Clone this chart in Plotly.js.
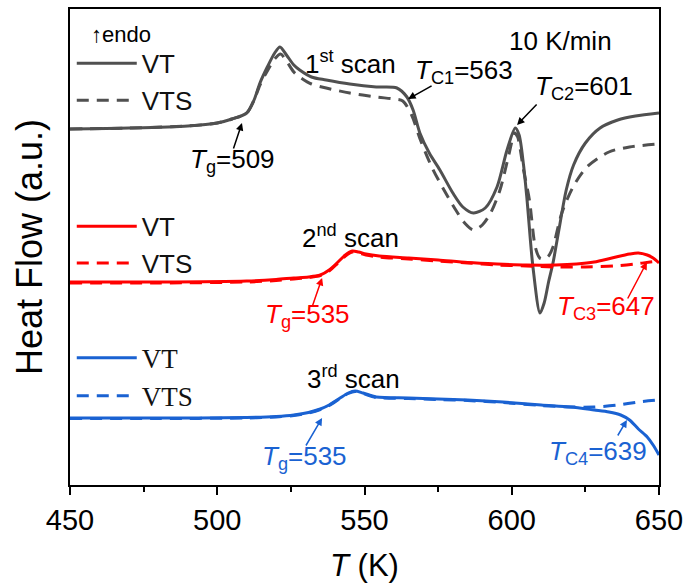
<!DOCTYPE html>
<html><head><meta charset="utf-8">
<script src="https://cdn.plot.ly/plotly-3.0.1.min.js"></script>
<style>html,body{margin:0;padding:0;background:#fff}#chart{width:697px;height:587px}</style>
</head><body><div id="chart"></div>
<script>
// 1st scan
const tempVT1 = [450,470,490,500,505,510,512.5,514.5,517,519.5,521.3,523.5,526,528,532,537,545,554,561,564.4,566.5,568.8,572,575.6,580,583.4,587,591,595,598.4,601.2,602.5,604,605.2,607.2,609.6,611,612.5,614,616,618.5,621,625,630,636,642,650];
const hfVT1 = [356,357,359,362,366,372,385,402,418,432,438,430,420,415,408,405,401,398,397,388,375,352,332,315,292,278,272,277,298,335,357,350,320,285,218,172,182,203,222,255,295,320,342,357,365,369,372];
const tempVTS1 = [450,470,490,500,505,510,512.5,514.5,517,519.5,521.5,523.5,526,528,532,537,545,554,560,563,566,569,573,577,581,584,587,590,593,596,599,601,602,604,606,608,609.5,611,612.5,614,617,620.8,625.5,633,640,650];
const hfVTS1 = [356,357,359,362,366,372,385,400,414,426,431,424,413,408,401,397,392,388,386,384,370,345,317,295,275,262,255,260,273,295,330,352,348,315,285,238,227,226,229,238,272,298,318,333,338,341];
// 2nd scan
const tempVT2 = [450,480,510,520,526,531,535,538,541,543.5,545.8,548,550.5,555,565,575,585,595,605,615,622,628,634,640,643,646,648,650];
const hfVT2 = [203,203,204,205.5,207,208,210,215,223,230,234,233,231,229,227,225,222.5,221,220,220,221,223,227,231,232,230,227,222];
const tempVTS2 = [450,480,510,520,526,531,535,538,541,543.5,545.8,548,550.5,555,565,575,585,595,605,615,625,635,642,647,650];
const hfVTS2 = [202,202,203,204.5,206,207.5,209.5,214,222,229,233,232,230,228,226,224,222,220,219,218,218,219,221,223,224];
// 3rd scan
const tempVT3 = [450,480,510,520,526,531,535,538,541.7,544.5,546.8,549.5,554,565,575,585,597,610,620,628,633,637,640,643,646,648,650];
const hfVT3 = [67,67,67.5,68.5,70,72.5,76,80,87,92,94,92,88,87,86,85,83,80,78,75,73,70,65,56,48,40,30];
const tempVTS3 = [450,480,510,520,526,531,535,538,541.7,544.5,546.8,549.5,554,565,575,585,597,610,620,628,636,643,650];
const hfVTS3 = [66.5,66.5,67,68,69.5,72,75.5,79.5,86.5,91.5,93.5,91.5,87.5,86.5,85.5,84.5,82.5,79.5,78,78,80,83,85];

const xTicks = [450,500,550,600,650];
const seriesNames = ['VT','VTS'];

const GRAY = '#505050', RED = '#ff0000', BLUE = '#1a62d2';
const SANS = 'Liberation Sans, Arial, sans-serif';
const SERIF = 'Liberation Serif, Times New Roman, serif';
const DASH = '12px,8px';

function tr(x, y, name, color, dash, legend) {
  return {x: x, y: y, name: name, type: 'scatter', mode: 'lines',
    line: {color: color, width: 3, dash: dash, shape: 'spline', smoothing: 0.8},
    legend: legend, hoverinfo: 'skip'};
}
const data = [
  tr(tempVT1, hfVT1, seriesNames[0], GRAY, 'solid', 'legend'),
  tr(tempVTS1, hfVTS1, seriesNames[1], GRAY, DASH, 'legend'),
  tr(tempVT2, hfVT2, seriesNames[0], RED, 'solid', 'legend2'),
  tr(tempVTS2, hfVTS2, seriesNames[1], RED, DASH, 'legend2'),
  tr(tempVT3, hfVT3, seriesNames[0], BLUE, 'solid', 'legend3'),
  tr(tempVTS3, hfVTS3, seriesNames[1], BLUE, DASH, 'legend3')
];

function txt(x, y, text, color, xanchor, size) {
  return {x: x, y: y, xref: 'x', yref: 'y', text: text, showarrow: false,
    xanchor: xanchor || 'left', yanchor: 'middle',
    font: {family: SANS, size: size || 26, color: color || '#000'}};
}
// arrow: tip (x, y) on the curve, tail offset (ax, ay) in px
function arr(x, y, ax, ay, color) {
  return {x: x, y: y, xref: 'x', yref: 'y', text: '', showarrow: true,
    ax: ax, ay: ay, arrowhead: 2, arrowsize: 1, arrowwidth: 1.5, arrowcolor: color || '#000', standoff: 0};
}
const annotations = [
  txt(456.5, 451, '↑endo', '#000', 'left', 22),
  txt(545.1, 423, '1<sup>st</sup> scan', '#000', 'center'),
  txt(616.4, 444, '10 K/min', '#000', 'center'),
  txt(566.5, 414, '<i>T</i><sub>C1</sub>=563'),
  txt(607.2, 398, '<i>T</i><sub>C2</sub>=601'),
  txt(490.1, 325, '<i>T</i><sub>g</sub>=509'),
  txt(545.4, 249, '2<sup>nd</sup> scan', '#000', 'center'),
  txt(515.5, 170, '<i>T</i><sub>g</sub>=535', RED),
  txt(614.7, 178, '<i>T</i><sub>C3</sub>=647', RED),
  txt(546.1, 108, '3<sup>rd</sup> scan', '#000', 'center'),
  txt(514.5, 28, '<i>T</i><sub>g</sub>=535', BLUE),
  txt(612, 33, '<i>T</i><sub>C4</sub>=639', BLUE),
  arr(508.4, 362, -9, 27),
  arr(564.8, 386, 25, -14),
  arr(601.8, 360, 21, -22),
  arr(645.9, 223, -20, 38, RED),
  arr(535.6, 207, -10, 29, RED),
  arr(535.6, 67, -17, 29, BLUE),
  arr(639.1, 65, -10, 17, BLUE)
];

function leg(y, family, size) {
  return {x: 0.003, y: y, xanchor: 'left', yanchor: 'top', bgcolor: 'rgba(0,0,0,0)',
    borderwidth: 0, itemwidth: 60, font: {family: family, size: size, color: '#111'}};
}

const layout = {
  width: 697, height: 587,
  margin: {l: 70, r: 38, t: 9, b: 102},
  paper_bgcolor: '#fff', plot_bgcolor: '#fff',
  font: {family: SANS, color: '#000'},
  showlegend: true,
  legend: leg(0.935, SANS, 26),
  legend2: leg(0.593, SANS, 26),
  legend3: leg(0.318, SERIF, 27),
  xaxis: {range: [450, 650], tickvals: xTicks, ticktext: xTicks.map(String),
    ticks: 'outside', ticklen: 8, tickwidth: 2, tickcolor: '#000',
    minor: {dtick: 25, tick0: 450, ticks: 'outside', ticklen: 5, tickwidth: 2, tickcolor: '#000'},
    showline: true, linewidth: 2, linecolor: '#000', mirror: true,
    showgrid: false, zeroline: false,
    tickfont: {family: SANS, size: 29, color: '#000'},
    title: {text: '<i>T</i> (K)', font: {family: SANS, size: 31, color: '#000'}, standoff: 20}},
  yaxis: {range: [0, 476], showticklabels: false, ticks: '',
    showline: true, linewidth: 2, linecolor: '#000', mirror: true,
    showgrid: false, zeroline: false,
    title: {text: 'Heat Flow (a.u.)', font: {family: SANS, size: 36, color: '#000'}, standoff: 14}},
  annotations: annotations
};
Plotly.newPlot('chart', data, layout, {displayModeBar: false, staticPlot: true});
</script></body></html>
